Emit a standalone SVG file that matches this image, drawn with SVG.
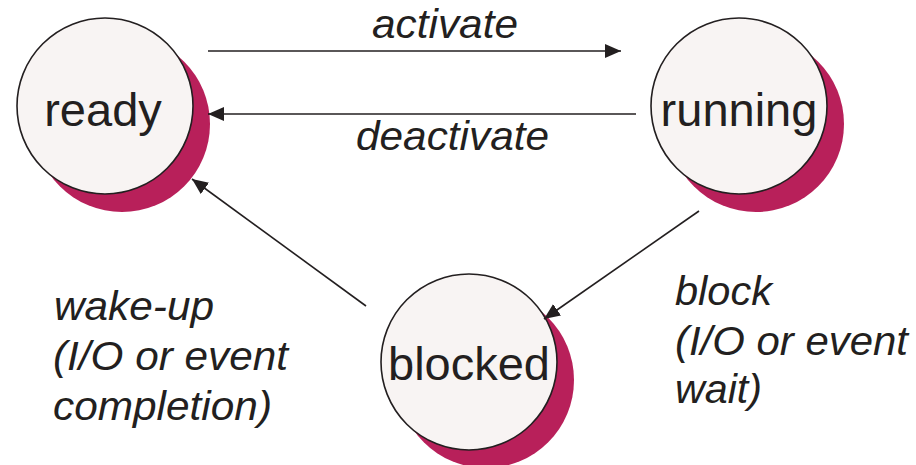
<svg xmlns="http://www.w3.org/2000/svg" width="916" height="465" viewBox="0 0 916 465">
<style>
.shadow{fill:#b8205a;}
.node{fill:#f8f4f3;stroke:#231f20;stroke-width:1.6;}
.ntext{font-family:"Liberation Sans",Arial,sans-serif;font-size:47px;fill:#231f20;text-anchor:middle;}
.label{font-family:"Liberation Sans",Arial,sans-serif;font-size:40px;font-style:italic;fill:#231f20;}
.edge{stroke:#231f20;stroke-width:1.6;fill:none;marker-end:url(#arrow);}
</style>
<defs>
<marker id="arrow" markerUnits="userSpaceOnUse" markerWidth="18" markerHeight="16" refX="16" refY="7" orient="auto">
<path d="M0,0 L16,7 L0,14 Z" fill="#231f20"/>
</marker>
</defs>
<rect width="916" height="465" fill="#ffffff"/>
<g id="ready">
<circle class="shadow" cx="122" cy="124" r="88"/>
<circle class="node" cx="105" cy="106" r="88"/>
<text class="ntext" x="103" y="126">ready</text>
</g>
<g id="running">
<circle class="shadow" cx="756" cy="124" r="88"/>
<circle class="node" cx="739" cy="106" r="88"/>
<text class="ntext" x="739" y="126">running</text>
</g>
<g id="blocked">
<circle class="shadow" cx="486" cy="380" r="88"/>
<circle class="node" cx="469" cy="362" r="88"/>
<text class="ntext" x="469" y="380">blocked</text>
</g>
<g id="connectors">
<line class="edge" x1="208" y1="51" x2="621" y2="51"/>
<line class="edge" x1="636" y1="114" x2="208" y2="114"/>
<line class="edge" x1="366" y1="306" x2="192" y2="179"/>
<line class="edge" x1="699" y1="211" x2="544" y2="319"/>
</g>
<g id="labels">
<text class="label" x="372" y="38" textLength="146" lengthAdjust="spacingAndGlyphs">activate</text>
<text class="label" x="356" y="150" textLength="193" lengthAdjust="spacingAndGlyphs">deactivate</text>
<text class="label" x="54" y="320" textLength="160" lengthAdjust="spacingAndGlyphs">wake-up</text>
<text class="label" x="53" y="370" textLength="235" lengthAdjust="spacingAndGlyphs">(I/O or event</text>
<text class="label" x="53" y="420" textLength="219" lengthAdjust="spacingAndGlyphs">completion)</text>
<text class="label" x="675" y="305" textLength="97" lengthAdjust="spacingAndGlyphs">block</text>
<text class="label" x="675" y="355" textLength="233" lengthAdjust="spacingAndGlyphs">(I/O or event</text>
<text class="label" x="675" y="403" textLength="87" lengthAdjust="spacingAndGlyphs">wait)</text>
</g>
</svg>
